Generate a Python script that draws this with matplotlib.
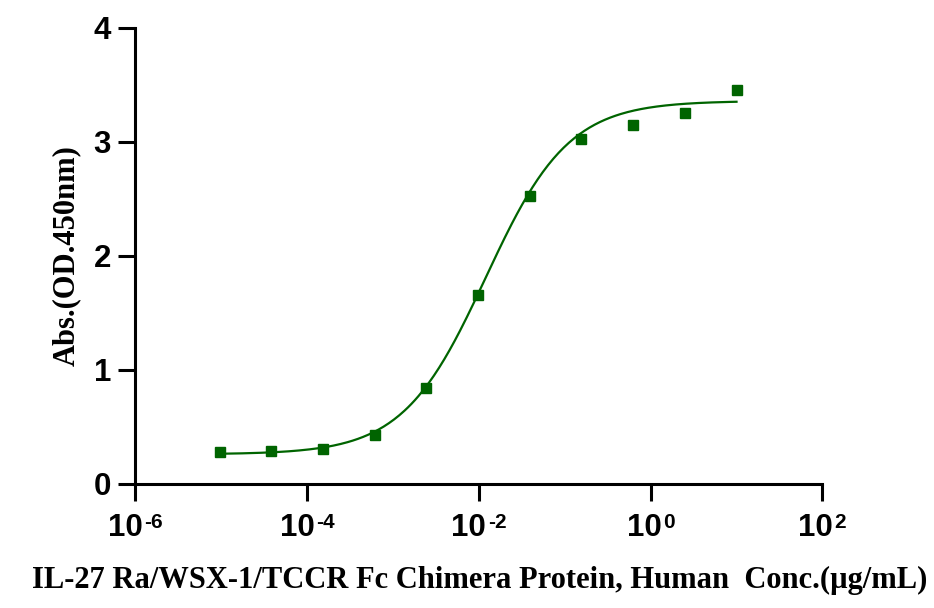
import numpy as np
import matplotlib
matplotlib.use("Agg")
import matplotlib.pyplot as plt
from matplotlib.ticker import FixedLocator, NullLocator, NullFormatter

# measured points (ug/mL, OD450)
conc = [9.54e-6, 3.81e-5, 1.53e-4, 6.10e-4, 2.44e-3, 9.77e-3,
        3.91e-2, 0.156, 0.625, 2.5, 10.0]
od = [0.28, 0.29, 0.31, 0.43, 0.84, 1.66, 2.53, 3.03, 3.15, 3.25, 3.46]

# 4PL fit
bottom = 0.26
top = 3.36
ec50 = 0.012
hill = 0.9

x_ticks = [1e-6, 1e-4, 1e-2, 1e0, 1e2]
x_exps = ["-6", "-4", "-2", "0", "2"]
y_ticks = [0, 1, 2, 3, 4]

green = "#006400"
px = 0.72  # points per pixel at dpi 100

fig = plt.figure(figsize=(9.34, 6.08), dpi=100)
ax = fig.add_axes([0.1450, 0.204, 0.7355, 0.750])

xs = np.logspace(np.log10(conc[0]), np.log10(conc[-1]), 300)
ys = bottom + (top - bottom) / (1 + (ec50 / xs) ** hill)
ax.plot(xs, ys, color=green, lw=1.6)
ax.plot(conc, od, ls="none", marker="s", ms=7.2, color=green)

ax.set_xscale("log")
ax.set_xlim(1e-6, 1e2)
ax.set_ylim(0, 4)
ax.xaxis.set_major_locator(FixedLocator(x_ticks))
ax.xaxis.set_minor_locator(NullLocator())
ax.xaxis.set_major_formatter(NullFormatter())
ax.set_yticks(y_ticks)
ax.set_yticklabels([str(v) for v in y_ticks])

for s in ["top", "right"]:
    ax.spines[s].set_visible(False)
for s in ["left", "bottom"]:
    ax.spines[s].set_linewidth(2.2)
ax.tick_params(direction="out", length=12.5, width=2.2, pad=5)
for lab in ax.get_yticklabels():
    lab.set_fontfamily("Liberation Sans")
    lab.set_fontweight("bold")
    lab.set_fontsize(22.5)

# x tick labels: "10" plus a small raised exponent, centred as a pair
tr = ax.get_xaxis_transform()
pairs = []
for t, e in zip(x_ticks, x_exps):
    base = ax.annotate("10", xy=(t, 0), xycoords=tr, xytext=(0, -29 * px),
                       textcoords="offset points", ha="right", va="top",
                       family="Liberation Sans", weight="bold", fontsize=22.5,
                       annotation_clip=False)
    sup = ax.annotate(e, xy=(t, 0), xycoords=tr, xytext=(0, -29.5 * px),
                      textcoords="offset points", ha="left", va="top",
                      family="Liberation Sans", weight="bold", fontsize=15,
                      annotation_clip=False)
    pairs.append((base, sup))

fig.canvas.draw()
r = fig.canvas.get_renderer()
gap = 1.5
for base, sup in pairs:
    w1 = base.get_window_extent(r).width
    w2 = sup.get_window_extent(r).width
    half = (w1 + gap + w2) / 2
    base.xyann = ((w1 - half) * px, base.xyann[1])
    sup.xyann = ((w1 + gap - half) * px, sup.xyann[1])

fig.text(0.5137, 1 - 588 / 608,
         "IL-27 Ra/WSX-1/TCCR Fc Chimera Protein, Human  Conc.(\u00b5g/mL)",
         family="Liberation Serif", weight="bold", fontsize=22,
         ha="center", va="baseline")
fig.text(66 / 934, 1 - 256 / 608, "Abs.(OD.450nm)", rotation=90,
         family="Liberation Serif", weight="bold", fontsize=22,
         ha="center", va="center")

fig.savefig("out.png", dpi=100)
